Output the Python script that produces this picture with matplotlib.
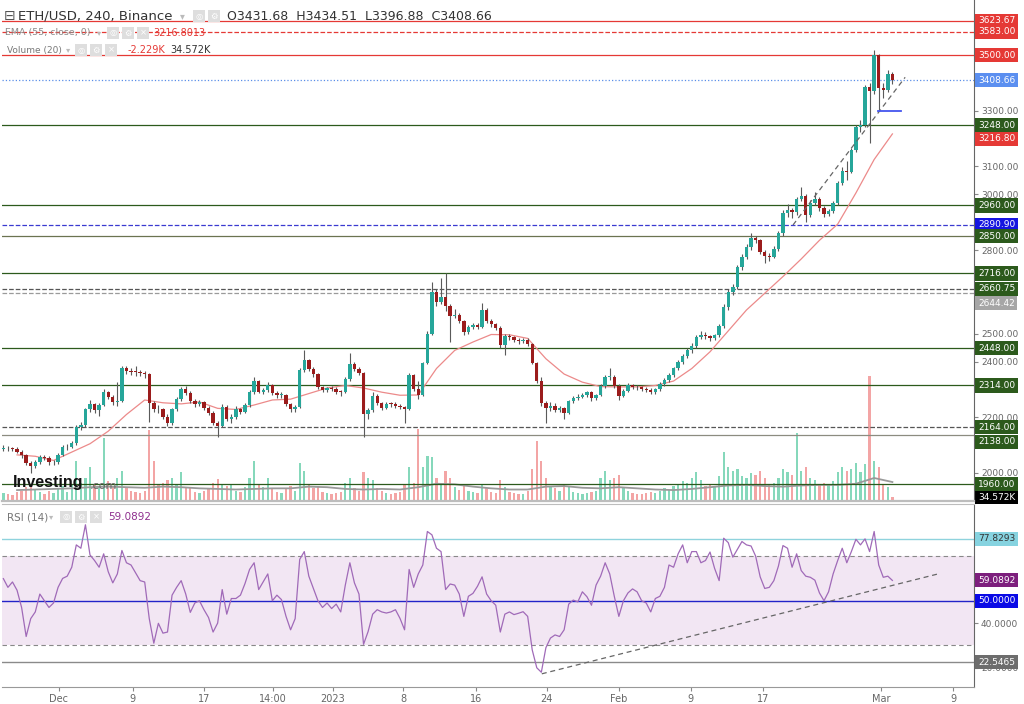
import numpy as np
import matplotlib
matplotlib.use("Agg")
import matplotlib.pyplot as plt
from matplotlib.patches import Rectangle
import matplotlib.transforms as mtransforms

# ETH/USD, resampled to 12h bars
first_open = 2085
closes = [2090, 2088, 2086, 2077, 2063, 2035, 2025, 2040, 2058, 2055,
          2038, 2038, 2065, 2092, 2094, 2107, 2165, 2172, 2228, 2247,
          2225, 2245, 2292, 2274, 2253, 2260, 2375, 2365, 2363, 2362,
          2359, 2355, 2250, 2231, 2228, 2202, 2179, 2230, 2265, 2300,
          2288, 2258, 2247, 2254, 2232, 2217, 2180, 2170, 2238, 2195,
          2200, 2230, 2220, 2244, 2290, 2330, 2292, 2298, 2314, 2286,
          2280, 2280, 2246, 2229, 2237, 2370, 2405, 2373, 2354, 2307,
          2298, 2304, 2302, 2292, 2290, 2337, 2392, 2373, 2360, 2210,
          2226, 2278, 2250, 2235, 2248, 2247, 2241, 2237, 2230, 2350,
          2300, 2280, 2395, 2500, 2650, 2615, 2630, 2600, 2565, 2568,
          2545, 2505, 2524, 2531, 2525, 2585, 2545, 2533, 2522, 2458,
          2493, 2488, 2478, 2472, 2478, 2462, 2395, 2330, 2250, 2232,
          2242, 2226, 2232, 2215, 2258, 2270, 2274, 2280, 2290, 2268,
          2280, 2312, 2345, 2345, 2312, 2278, 2296, 2315, 2310, 2307,
          2303, 2299, 2290, 2300, 2318, 2334, 2350, 2375, 2398, 2420,
          2440, 2455, 2488, 2497, 2490, 2485, 2495, 2527, 2595, 2650,
          2668, 2740, 2775, 2810, 2845, 2835, 2793, 2780, 2775, 2805,
          2860, 2933, 2942, 2935, 2985, 2995, 2925, 2970, 2985, 2950,
          2931, 2940, 2969, 3041, 3085, 3080, 3160, 3240, 3248, 3385,
          3370, 3500, 3380, 3374, 3432, 3408.66]
highs = [2100, 2098, 2095, 2092, 2082, 2068, 2042, 2048, 2066, 2065,
         2060, 2048, 2072, 2100, 2104, 2115, 2172, 2182, 2235, 2262,
         2252, 2250, 2300, 2296, 2280, 2325, 2385, 2383, 2375, 2384,
         2370, 2366, 2358, 2258, 2245, 2235, 2210, 2235, 2272, 2310,
         2312, 2295, 2265, 2262, 2260, 2240, 2222, 2188, 2246, 2244,
         2210, 2240, 2235, 2250, 2298, 2345, 2335, 2305, 2325, 2318,
         2294, 2290, 2285, 2252, 2245, 2378, 2442, 2410, 2380, 2360,
         2312, 2310, 2312, 2308, 2298, 2345, 2431, 2398, 2380, 2364,
         2235, 2290, 2282, 2256, 2255, 2256, 2253, 2248, 2242, 2358,
         2355, 2330, 2400, 2508, 2686, 2660, 2700, 2718, 2608, 2590,
         2575, 2550, 2530, 2540, 2540, 2610, 2592, 2552, 2540, 2526,
         2498, 2500, 2492, 2485, 2484, 2484, 2466, 2400, 2345, 2258,
         2255, 2250, 2240, 2238, 2262, 2278, 2282, 2288, 2296, 2294,
         2285, 2320, 2352, 2378, 2350, 2318, 2300, 2322, 2320, 2316,
         2312, 2308, 2304, 2306, 2325, 2340, 2358, 2382, 2405, 2428,
         2448, 2465, 2495, 2510, 2505, 2496, 2500, 2535, 2605, 2660,
         2680, 2748, 2785, 2820, 2862, 2852, 2840, 2800, 2790, 2815,
         2868, 2945, 2965, 2950, 2992, 3025, 3000, 2980, 3010, 2992,
         2958, 2948, 2975, 3048, 3098, 3120, 3168, 3250, 3268, 3392,
         3400, 3518, 3505, 3400, 3445, 3440]
lows = [2078, 2080, 2078, 2070, 2055, 2028, 2000, 2018, 2034, 2045,
        2030, 2028, 2032, 2060, 2084, 2088, 2102, 2155, 2165, 2220,
        2215, 2205, 2240, 2265, 2245, 2242, 2255, 2355, 2350, 2348,
        2348, 2342, 2183, 2220, 2215, 2195, 2168, 2172, 2222, 2258,
        2280, 2250, 2238, 2240, 2225, 2208, 2172, 2130, 2165, 2185,
        2180, 2192, 2212, 2214, 2238, 2282, 2286, 2284, 2290, 2280,
        2270, 2270, 2240, 2220, 2218, 2232, 2362, 2365, 2345, 2300,
        2290, 2292, 2294, 2284, 2278, 2286, 2330, 2365, 2352, 2130,
        2195, 2220, 2244, 2226, 2230, 2236, 2232, 2228, 2180, 2226,
        2295, 2265, 2275, 2390, 2495, 2600, 2605, 2580, 2470, 2555,
        2538, 2495, 2498, 2515, 2515, 2520, 2538, 2525, 2512, 2448,
        2424, 2478, 2470, 2464, 2466, 2455, 2390, 2322, 2240, 2180,
        2222, 2218, 2220, 2195, 2210, 2250, 2262, 2268, 2272, 2260,
        2262, 2275, 2305, 2335, 2305, 2262, 2272, 2290, 2300, 2298,
        2296, 2292, 2282, 2284, 2295, 2312, 2328, 2345, 2368, 2392,
        2412, 2432, 2450, 2480, 2482, 2472, 2478, 2488, 2520, 2585,
        2640, 2660, 2730, 2768, 2800, 2826, 2785, 2755, 2762, 2770,
        2798, 2852, 2920, 2915, 2925, 2975, 2900, 2918, 2962, 2940,
        2920, 2922, 2932, 2962, 3035, 3050, 3075, 3152, 3225, 3240,
        3184, 3360, 3303, 3345, 3368, 3396]
# volume in thousands
volumes = [70, 60, 55, 80, 90, 120, 150, 95, 80, 60,
           90, 70, 110, 130, 80, 140, 350, 160, 200, 300,
           150, 130, 550, 170, 130, 200, 260, 110, 90, 80,
           70, 90, 620, 350, 140, 160, 180, 200, 150, 250,
           120, 110, 80, 70, 90, 110, 160, 190, 150, 130,
           150, 90, 80, 120, 200, 350, 150, 120, 200, 110,
           80, 70, 110, 130, 90, 330, 260, 150, 110, 130,
           80, 70, 60, 70, 80, 160, 200, 110, 90, 250,
           200, 180, 110, 90, 70, 60, 70, 80, 150, 300,
           160, 630, 300, 390, 380, 200, 150, 260, 200, 120,
           100, 140, 90, 80, 70, 150, 110, 80, 70, 180,
           120, 80, 70, 60, 60, 90, 280, 520, 350, 200,
           130, 110, 90, 150, 120, 80, 70, 60, 70, 80,
           90, 200, 260, 180, 200, 230, 110, 90, 70, 60,
           60, 70, 80, 70, 90, 110, 100, 130, 150, 170,
           160, 200, 250, 180, 130, 140, 120, 220, 430, 300,
           260, 280, 220, 200, 240, 230, 260, 200, 150, 160,
           200, 280, 250, 230, 590, 260, 300, 200, 180, 150,
           160, 140, 170, 250, 300, 260, 280, 330, 250, 320,
           1090, 350, 300, 150, 120, 34.572]
rsi = [59.9, 56, 58.4, 54.7, 47, 34, 42, 45, 53, 50,
       47, 49, 56, 60, 61, 65, 75, 73.5, 84, 70.5,
       68, 65, 71, 63, 58, 62, 72.5, 67, 66, 62.5,
       59, 58.4, 42, 31, 39.9, 35.5, 36, 52.5, 56, 59,
       53, 44.8, 49, 50, 46, 42.5, 36, 40, 55, 44,
       51, 51, 52.5, 57.7, 64, 67, 55, 58.5, 62, 50,
       52.5, 50.5, 43, 37, 42, 68.5, 72, 61, 55.5, 50,
       47, 49, 46.5, 48.5, 45, 57, 67, 58, 53, 30.5,
       36.2, 44, 46, 45, 44.5, 45, 46, 42.1, 37, 64,
       56, 62, 66, 81, 79.5, 73.5, 72, 55, 57.5, 57,
       53, 43, 52, 53.3, 56.5, 60.7, 53, 50, 48, 36,
       44, 45, 43.8, 44.4, 45.1, 43, 28, 20, 18, 29,
       33.3, 34.7, 34, 37, 48.5, 50.3, 49.5, 54, 51.8, 48,
       57, 61, 67, 62, 52, 43, 50, 53.5, 55.3, 54,
       50, 49, 45, 51, 52, 56, 66, 65, 71, 75,
       67, 72, 72, 67, 68, 71.8, 64.5, 59, 78, 76,
       69.5, 73, 76.5, 75, 74.5, 70, 60.7, 55.5, 56, 59,
       65.5, 74.7, 73.5, 65, 71, 63.5, 61, 60.5, 59.2, 53.5,
       50, 54, 62, 68, 73.5, 67, 72, 77.5, 75, 77.7,
       72, 81, 66, 60.5, 61, 59.0892]
# EMA 55 and volume MA 20, every 4th bar starting at bar 3
ema55 = [2065, 2060, 2045, 2075, 2105, 2150, 2210, 2262, 2252, 2248,
         2255, 2232, 2228, 2244, 2262, 2265, 2285, 2305, 2314, 2305,
         2290, 2279, 2280, 2375, 2440, 2470, 2497, 2496, 2483, 2410,
         2355, 2326, 2310, 2309, 2309, 2314, 2330, 2375, 2435, 2510,
         2585, 2645, 2705, 2768, 2835, 2893, 3005, 3125, 3216.8]
vol_ma = [95, 100, 105, 110, 120, 125, 120, 115, 125, 120,
          110, 105, 100, 105, 110, 110, 125, 120, 105, 100,
          105, 100, 120, 150, 145, 125, 110, 100, 100, 125,
          130, 115, 110, 120, 110, 100, 95, 105, 120, 135,
          140, 130, 125, 135, 140, 140, 150, 200, 165]

date_labels = ['Dec', '9', '17', '14:00', '2023', '8', '16', '24', 'Feb', '9', '17', 'Mar', '9']
date_pos = [12.2, 28.4, 44.1, 59.1, 72.3, 87.7, 103.6, 119.2, 135.0, 150.8, 166.6, 192.6, 208.4]

RED = '#e53935'
GRN = '#2c5a1c'
levels = [(3623.67, RED, '-'), (3583.00, RED, '--'), (3500.00, RED, '-'),
          (3408.66, '#5a8ee8', ':'), (3248.00, GRN, '-'), (2960.00, GRN, '-'),
          (2890.90, '#3a3ad0', '--'), (2850.00, '#6b7350', '-'), (2716.00, GRN, '-'),
          (2660.75, '#555555', '--'), (2644.42, '#9a9a9a', '--'), (2448.00, GRN, '-'),
          (2314.00, GRN, '-'), (2164.00, '#555555', '--'), (2138.00, '#8c8c80', '-'),
          (1960.00, GRN, '-')]
# value, box colour, text colour, shift in pixels
price_tags = [(3623.67, RED, 'white', 0), (3583.00, RED, 'white', 0), (3500.00, RED, 'white', 0),
              (3408.66, '#5b8ff0', 'white', 0), (3248.00, GRN, 'white', 0), (3216.80, RED, 'white', -5),
              (2960.00, GRN, 'white', 0), (2890.90, '#1515e0', 'white', 0), (2850.00, GRN, 'white', 0),
              (2716.00, GRN, 'white', 0), (2660.75, GRN, 'white', 0), (2644.42, '#a6a6a6', 'white', -10),
              (2448.00, GRN, 'white', 0), (2314.00, GRN, 'white', 0), (2164.00, GRN, 'white', 0),
              (2138.00, GRN, 'white', -7), (1960.00, GRN, 'white', 0)]
rsi_tags = [(77.8293, '#86d3e0', '#333333'), (59.0892, '#7d1f7d', 'white'),
            (50.0, '#0a0ae6', 'white'), (22.5465, '#6d6d6d', 'white')]
trend_bar = [173.2, 197.8]
trend_price = [2890, 3420]
support_bar = [191.8, 196.9]
support_price = [3300, 3300]
rsi_trend_bar = [118.1, 205.0]
rsi_trend_val = [17.3, 62.0]

W, H = 1024, 704
fig = plt.figure(figsize=(W / 100, H / 100), dpi=100)

def fx(x):
    return x / W

def fy(y):
    return 1 - y / H

ax = fig.add_axes([fx(2), fy(501), fx(972), 501 / H])
ax_v = ax.twinx()
ax_r = fig.add_axes([fx(2), fy(687), fx(972), 183 / H])

n = len(closes)
x = np.arange(n)
c = np.array(closes)
o = np.array([first_open] + closes[:-1])
up = c >= o

# volume underneath
ax_v.bar(x, volumes, width=0.5, color=np.where(up, '#86d8bb', '#f3a5a5'), linewidth=0)
ax_v.plot(x[3::4], vol_ma, color='#9a9a9a', lw=1.3)
ax_v.set_ylim(0, 4357)
ax_v.axis('off')
ax.set_zorder(ax_v.get_zorder() + 1)
ax.patch.set_visible(False)

for val, col, ls in levels:
    ax.axhline(val, color=col, ls=ls, lw=0.9, zorder=1)

ax.plot(x[3::4], ema55, color='#ec8a8a', lw=0.9, zorder=2)
ax.vlines(x, lows, highs, colors='#5a5a5a', lw=0.8, zorder=3)
ax.bar(x, np.maximum(np.abs(c - o), 3), bottom=np.minimum(o, c), width=0.74,
       color=np.where(up, '#26a69a', '#9b1c1c'), linewidth=0, zorder=4)
ax.plot(trend_bar, trend_price, color='#666666', ls=(0, (4, 3)), lw=0.9, zorder=5)
ax.plot(support_bar, support_price, color='#4455ee', lw=1.3, zorder=5)

ax.set_xlim(-0.3, 212.9)
ax.set_ylim(1899.5, 3697.4)
ax.yaxis.tick_right()
ax.set_yticks([3300, 3100, 3000, 2800, 2500, 2400, 2200, 2000])
ax.yaxis.set_major_formatter(matplotlib.ticker.FormatStrFormatter('%.2f'))
ax.tick_params(axis='y', length=3, color='#888888', labelsize=6.5, labelcolor='#666666', pad=2)
ax.set_xticks(date_pos)
ax.tick_params(axis='x', length=0, labelbottom=False)
for s in ['top', 'left']:
    ax.spines[s].set_visible(False)
ax.spines['right'].set_color('#666666')
ax.spines['bottom'].set_color('#bdbdbd')
ax.spines['bottom'].set_linewidth(1.6)

blend = mtransforms.blended_transform_factory(ax.transAxes, ax.transData)
for val, bg, fg, dy in price_tags:
    ax.annotate('%.2f' % val, xy=(1, val), xycoords=blend, xytext=(4, dy), textcoords='offset pixels',
                ha='left', va='center', fontsize=6.5, color=fg, annotation_clip=False, zorder=10,
                bbox=dict(boxstyle='square,pad=0.28', fc=bg, ec='none'))
blend_v = mtransforms.blended_transform_factory(ax_v.transAxes, ax_v.transData)
ax_v.annotate('34.572K', xy=(1, volumes[-1]), xycoords=blend_v, xytext=(4, 0), textcoords='offset pixels',
              ha='left', va='center', fontsize=6.5, color='white', annotation_clip=False, zorder=10,
              bbox=dict(boxstyle='square,pad=0.28', fc='black', ec='none'))

# RSI pane
ax_r.axhspan(30, 70, color='#f2e6f3', lw=0, zorder=0)
ax_r.axhline(70, color='#888888', ls=(0, (4, 3)), lw=0.8)
ax_r.axhline(30, color='#888888', ls=(0, (4, 3)), lw=0.8)
ax_r.axhline(50, color='#2323c8', lw=1)
ax_r.axhline(77.8293, color='#8fd3dd', lw=1)
ax_r.axhline(22.5465, color='#8a8a8a', lw=1)
ax_r.plot(x, rsi, color='#a06ab8', lw=0.9)
ax_r.plot(rsi_trend_bar, rsi_trend_val, color='#666666', ls=(0, (4, 3)), lw=0.9)
ax_r.set_xlim(-0.3, 212.9)
ax_r.set_ylim(11.4, 93.3)
ax_r.yaxis.tick_right()
ax_r.set_yticks([20, 40])
ax_r.yaxis.set_major_formatter(matplotlib.ticker.FormatStrFormatter('%.4f'))
ax_r.tick_params(axis='y', length=3, color='#888888', labelsize=6.5, labelcolor='#666666', pad=2)
ax_r.set_xticks(date_pos, date_labels)
ax_r.tick_params(axis='x', length=3, color='#888888', labelsize=7, labelcolor='#666666', pad=2)
ax_r.spines['left'].set_visible(False)
ax_r.spines['top'].set_color('#bdbdbd')
ax_r.spines['right'].set_color('#666666')
ax_r.spines['bottom'].set_color('#999999')
blend_r = mtransforms.blended_transform_factory(ax_r.transAxes, ax_r.transData)
for val, bg, fg in rsi_tags:
    ax_r.annotate('%.4f' % val, xy=(1, val), xycoords=blend_r, xytext=(4, 0), textcoords='offset pixels',
                  ha='left', va='center', fontsize=6.5, color=fg, annotation_clip=False, zorder=10,
                  bbox=dict(boxstyle='square,pad=0.28', fc=bg, ec='none'))

# legend rows
def icons(x0, y, count):
    for k in range(count):
        fig.add_artist(Rectangle((fx(x0 + 15 * k), fy(y + 6)), fx(12), 12 / H,
                                 transform=fig.transFigure, fc='#dedede', ec='none', zorder=20))
        fig.text(fx(x0 + 15 * k + 6), fy(y), ['◎', '⚙', '×'][k], fontsize=6, color='white',
                 ha='center', va='center', zorder=21)

fig.text(fx(4), fy(16), '⊟', fontsize=10, color='#555555', va='center')
fig.text(fx(18), fy(16), 'ETH/USD, 240, Binance', fontsize=9.5, color='#333333', va='center')
fig.text(fx(180), fy(16), '▾', fontsize=7, color='#bbbbbb', va='center')
icons(193, 16, 2)
fig.text(fx(227), fy(16), 'O3431.68  H3434.51  L3396.88  C3408.66', fontsize=9, color='#333333', va='center')

fig.text(fx(5), fy(33), 'EMA (55, close, 0)', fontsize=6.8, color='#888888', va='center')
fig.text(fx(97), fy(33), '▾', fontsize=6, color='#bbbbbb', va='center')
icons(107, 33, 3)
fig.text(fx(153), fy(33), '3216.8013', fontsize=7, color=RED, va='center')

fig.text(fx(7), fy(50), 'Volume (20)', fontsize=6.5, color='#777777', va='center')
fig.text(fx(66), fy(50), '▾', fontsize=6, color='#bbbbbb', va='center')
icons(75, 50, 3)
fig.text(fx(128), fy(50), '-2.229K', fontsize=7, color=RED, va='center')
fig.text(fx(170), fy(50), '34.572K', fontsize=7, color='#333333', va='center')

fig.text(fx(7), fy(517), 'RSI (14)', fontsize=7.5, color='#777777', va='center')
fig.text(fx(49), fy(517), '▾', fontsize=6, color='#bbbbbb', va='center')
icons(60, 517, 3)
fig.text(fx(108), fy(517), '59.0892', fontsize=7.5, color='#8e2f8e', va='center')

fig.text(fx(13), fy(483), 'Investing', fontsize=11.5, fontweight='bold', family='Liberation Sans',
         color='#111111', va='center', zorder=20)
fig.text(fx(90), fy(486), '.com', fontsize=8, color='#666666', va='center', zorder=20)

fig.savefig('out.png', dpi=100, facecolor='white')
